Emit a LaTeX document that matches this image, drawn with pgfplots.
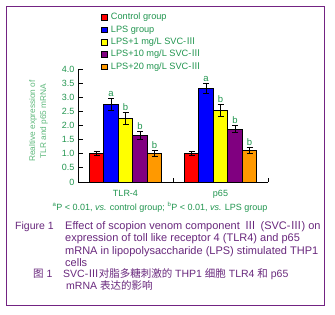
\documentclass[border=0pt]{standalone}
\usepackage{pgfplots}
\pgfplotsset{compat=1.18}
\usepackage{fontspec}
\setmainfont{Liberation Sans}
\newfontfamily\cjk{Noto Sans CJK SC}
\definecolor{tgreen}{RGB}{34,150,80}
\definecolor{lgreen}{RGB}{95,185,125}
\definecolor{cpurple}{RGB}{105,40,125}
\definecolor{fpurple}{RGB}{115,35,130}
\definecolor{bred}{RGB}{255,0,0}
\definecolor{bblue}{RGB}{0,0,255}
\definecolor{byellow}{RGB}{255,255,0}
\definecolor{bpurple}{RGB}{128,0,128}
\definecolor{borange}{RGB}{255,153,0}
\pgfplotsset{
  common/.style={at={(78pt,132pt)}, anchor=south west,
    scale only axis, width=190pt, height=113pt,
    xmin=-0.5, xmax=1.5, ymin=0, ymax=4, clip=false},
}
\begin{document}
\begin{tikzpicture}
\path[use as bounding box] (0,0) rectangle (335pt,314pt);
\fill[white] (0,0) rectangle (335pt,314pt);
\draw[fpurple, line width=1pt] (6pt,9pt) rectangle (324pt,307pt);
\begin{axis}[
  common,
  ybar=0pt, bar width=14.5pt,
  axis x line=bottom, axis y line=left,
  axis line style={-, line width=0.8pt},
  xtick={0,1}, xticklabels={TLR-4,p65},
  major x tick style={draw=none},
  extra x ticks={0.5,1.5}, extra x tick labels={},
  extra x tick style={major x tick style={draw=black, line width=0.8pt}, major tick length=4pt, tick align=inside},
  ytick={0,0.5,...,4}, yticklabels={0,0.5,1.0,1.5,2.0,2.5,3.0,3.5,4.0},
  y tick style={line width=0.8pt, black}, major tick length=5pt, ytick align=inside,
  tick label style={font=\fontsize{9}{10}\selectfont, text=tgreen},
  xticklabel style={yshift=-2pt},
  /pgf/number format/assume math mode=true,
  every axis plot/.append style={draw=black, line width=0.8pt,
    error bars/y dir=both, error bars/y explicit,
    error bars/error mark options={rotate=90, mark size=3pt, line width=0.8pt, black},
    error bars/error bar style={line width=0.8pt, black}},
  legend cell align=left,
  legend image code/.code={\draw[#1, draw=black, line width=0.6pt] (0pt,-2.8pt) rectangle (5.6pt,2.8pt);},
  legend style={at={(0.121,1.504)}, anchor=north west, draw=none, fill=none, inner sep=0pt,
    font=\fontsize{9.2}{10}\selectfont, text=tgreen, row sep=2.4pt,
    nodes={inner sep=0.5pt, text height=7pt, text depth=2pt},
    /tikz/every odd column/.append style={column sep=3pt}},
]
\addplot[fill=bred] coordinates {(0,1.01) +- (0,0.07) (1,1.01) +- (0,0.07)};
\addplot[fill=bblue] coordinates {(0,2.74) +- (0,0.21) (1,3.31) +- (0,0.17)};
\addplot[fill=byellow] coordinates {(0,2.25) +- (0,0.21) (1,2.53) +- (0,0.21)};
\addplot[fill=bpurple] coordinates {(0,1.65) +- (0,0.14) (1,1.87) +- (0,0.13)};
\addplot[fill=borange] coordinates {(0,1.01) +- (0,0.11) (1,1.12) +- (0,0.10)};
\legend{Control group, LPS group, LPS+1 mg/L SVC-{\cjk Ⅲ}, LPS+10 mg/L SVC-{\cjk Ⅲ}, LPS+20 mg/L SVC-{\cjk Ⅲ}}
\end{axis}
\begin{axis}[common, hide axis]
\addplot[draw=none, mark=none, nodes near coords, point meta=explicit symbolic,
    nodes near coords style={anchor=south, yshift=1pt, inner sep=1pt, text=tgreen, font=\fontsize{9.5}{10}\selectfont}]
  coordinates {(-0.1526,2.95)[a] (0,2.46)[b] (0.1526,1.79)[b] (0.3053,1.12)[b]
  (0.8474,3.48)[a] (1,2.74)[b] (1.1526,2.00)[b] (1.3053,1.22)[b]};
\end{axis}
\node[rotate=90, align=center, text=lgreen, font=\fontsize{8.3}{11}\selectfont] at (38.5pt,193pt) {Realtive expression of\\TLR and p65 mRNA};
\node[text=tgreen, font=\fontsize{9}{10}\selectfont] at (160pt,107pt) {\textsuperscript{a}P < 0.01, \textit{vs.} control group; \textsuperscript{b}P < 0.01, \textit{vs.} LPS group};
\begin{scope}[every node/.style={anchor=base west, inner sep=0pt, text=cpurple, font=\fontsize{11}{12}\selectfont}]
\node[font=\fontsize{10.5}{12}\selectfont] at (15pt,85pt) {Figure 1};
\node at (65pt,85pt) {Effect of scopion venom component \,{\cjk Ⅲ}\, (SVC-{\cjk Ⅲ}) on};
\node at (65pt,72.5pt) {expression of toll like receptor 4 (TLR4) and p65};
\node at (65pt,60pt) {mRNA in lipopolysaccharide (LPS) stimulated THP1};
\node at (65pt,48pt) {cells};
\node[font=\fontsize{10.5}{12}\selectfont] at (33pt,37pt) {{\cjk 图} 1};
\node[font=\fontsize{10.5}{12}\selectfont] at (63pt,37pt) {SVC-{\cjk Ⅲ对脂多糖刺激的} THP1 {\cjk 细胞} TLR4 {\cjk 和} p65};
\node[font=\fontsize{10.5}{12}\selectfont] at (66pt,24.5pt) {mRNA {\cjk 表达的影响}};
\end{scope}
\end{tikzpicture}
\end{document}
